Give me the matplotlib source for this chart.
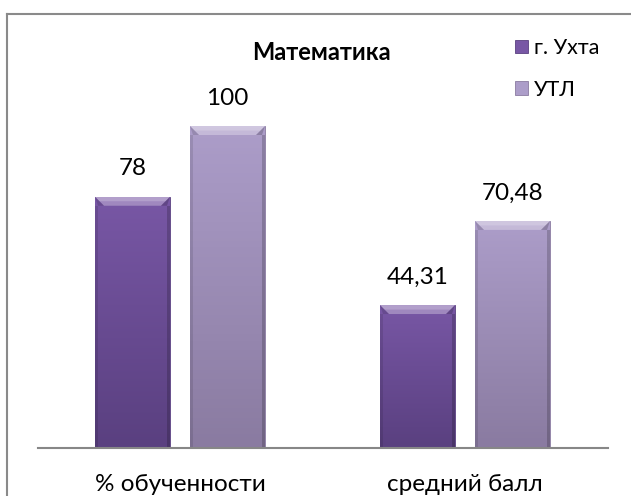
import matplotlib
matplotlib.use('Agg')
import matplotlib.pyplot as plt
import numpy as np
from matplotlib.colors import LinearSegmentedColormap
from matplotlib.patches import Polygon
from matplotlib.lines import Line2D

categories = ['% обученности', 'средний балл']
series_names = ['г. Ухта', 'УТЛ']
ukhta = [78, 44.31]
utl = [100, 70.48]
title = 'Математика'

top_colors = ['#7857A5', '#AC9DC9']
bottom_colors = ['#5A4080', '#8A7BA1']

plt.rcParams['font.family'] = ['Lato', 'DejaVu Sans']

W, H = 631, 496
fig = plt.figure(figsize=(W / 100, H / 100), dpi=100)
ax = fig.add_axes([37.5 / W, 1 - 447.5 / H, 570 / W, 385.8 / H])
ax.set_xlim(-0.5, 1.5)
ax.set_ylim(0, 120)

# pixel -> data sizes for the bevel
px_x = (ax.get_xlim()[1] - ax.get_xlim()[0]) / 570
px_y = (ax.get_ylim()[1] - ax.get_ylim()[0]) / 385.8

x = np.arange(len(categories))
bw = 0.263
off = 0.1667

for i, (vals, name) in enumerate(zip([ukhta, utl], series_names)):
    bars = ax.bar(x + (2 * i - 1) * off, vals, bw, color=top_colors[i],
                  edgecolor=bottom_colors[i], linewidth=0.6, label=name, zorder=2)
    cmap = LinearSegmentedColormap.from_list('g' + str(i), [bottom_colors[i], top_colors[i]])
    for b, v in zip(bars, vals):
        x0, w, h = b.get_x(), b.get_width(), b.get_height()
        im = ax.imshow(np.linspace(0, 1, 100).reshape(-1, 1), origin='lower',
                       extent=(x0, x0 + w, 0, h), cmap=cmap, aspect='auto', zorder=3)
        im.set_clip_path(b)
        dx, dy = 9 * px_x, 9 * px_y
        sx = 3 * px_x
        # top bevel
        ax.add_patch(Polygon([(x0, h), (x0 + w, h), (x0 + w - dx, h - dy), (x0 + dx, h - dy)],
                             closed=True, facecolor='white', alpha=0.3, lw=0, zorder=4))
        ax.add_patch(Polygon([(x0, h), (x0 + w, h), (x0 + w - dx / 2, h - dy / 2), (x0 + dx / 2, h - dy / 2)],
                             closed=True, facecolor='white', alpha=0.2, lw=0, zorder=4))
        # corner diagonals, slightly darker
        ax.add_patch(Polygon([(x0, h), (x0 + dx, h - dy), (x0 + sx, h - dy)],
                             closed=True, facecolor='black', alpha=0.12, lw=0, zorder=4))
        ax.add_patch(Polygon([(x0 + w, h), (x0 + w - dx, h - dy), (x0 + w - sx, h - dy)],
                             closed=True, facecolor='black', alpha=0.18, lw=0, zorder=4))
        # sides
        ax.add_patch(Polygon([(x0, 0), (x0, h - dy), (x0 + sx, h - dy), (x0 + sx, 0)],
                             closed=True, facecolor='black', alpha=0.1, lw=0, zorder=4))
        ax.add_patch(Polygon([(x0 + w, 0), (x0 + w, h - dy), (x0 + w - sx, h - dy), (x0 + w - sx, 0)],
                             closed=True, facecolor='black', alpha=0.18, lw=0, zorder=4))
        ax.annotate(str(v).replace('.', ','), xy=(x0 + w / 2, h), xytext=(0, 20),
                    textcoords='offset points', ha='center', va='center', fontsize=17.5)

ax.set_xlim(-0.5, 1.5)
ax.set_ylim(0, 120)
ax.set_xticks(x, categories)
ax.tick_params(axis='x', length=0, pad=19, labelsize=17.5)
ax.set_yticks([])
for s in ['top', 'left', 'right']:
    ax.spines[s].set_visible(False)
ax.spines['bottom'].set_color('#878787')
ax.spines['bottom'].set_linewidth(1.5)
ax.spines['bottom'].set_zorder(5)

fig.text(321 / W, 1 - 52 / H, title, ha='center', va='center', fontsize=17, fontweight='bold')
fig.legend(loc='upper left', bbox_to_anchor=(515 / W, 1 - 38 / H), frameon=False, fontsize=15.5,
           handlelength=0.6, handleheight=0.6, handletextpad=0.3, labelspacing=1.0,
           borderaxespad=0, borderpad=0)

# chart border
fig.add_artist(Line2D([7 / W, 7 / W], [0, 1 - 14 / H], color='#8a8a8a', lw=1.5))
fig.add_artist(Line2D([7 / W, 1], [1 - 14 / H, 1 - 14 / H], color='#8a8a8a', lw=1.5))

fig.savefig('out.png', dpi=100)
